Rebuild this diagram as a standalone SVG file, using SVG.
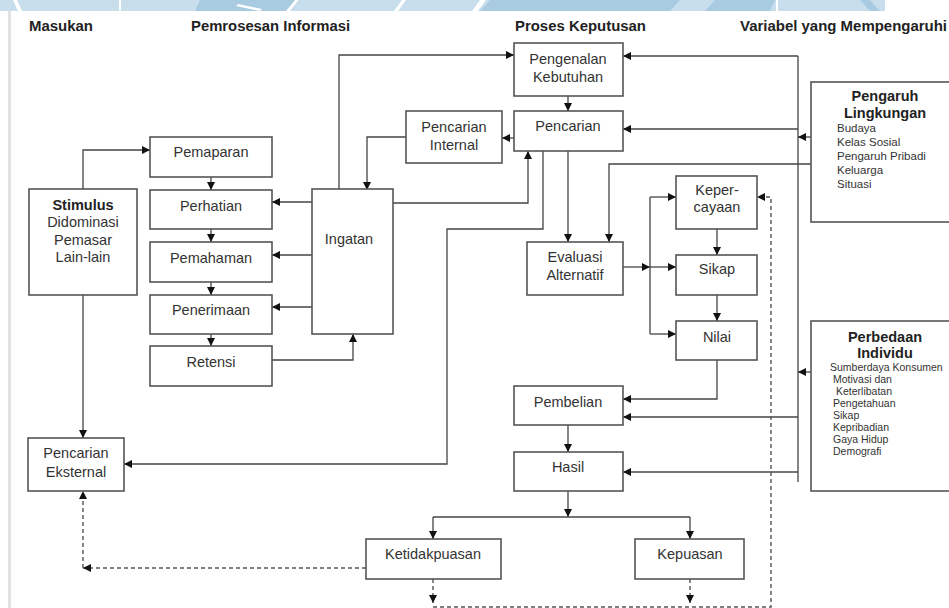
<svg xmlns="http://www.w3.org/2000/svg" width="949" height="608" viewBox="0 0 949 608">
<defs>
<marker id="ah" viewBox="0 0 10 10" refX="10" refY="5" markerUnits="userSpaceOnUse" markerWidth="8" markerHeight="8" orient="auto">
<path d="M0,0 L10,5 L0,10 z" fill="#111"/>
</marker>
</defs>
<style>
.box{fill:#fff;stroke:#555;stroke-width:1.6}
.ln{fill:none;stroke:#444;stroke-width:1.3}
.ar{marker-end:url(#ah)}
.ds{fill:none;stroke:#555;stroke-width:1.4;stroke-dasharray:4 3}
.t{font-family:"Liberation Sans",Arial,sans-serif;font-size:14.5px;fill:#333;text-anchor:middle}
.b{font-weight:bold;fill:#222}
.h{font-family:"Liberation Sans",Arial,sans-serif;font-size:14px;font-weight:bold;fill:#222}
.s{font-family:"Liberation Sans",Arial,sans-serif;font-size:11.5px;fill:#333}
.xs{font-family:"Liberation Sans",Arial,sans-serif;font-size:10.5px;fill:#333}
</style>
<rect x="0" y="0" width="949" height="608" fill="#fff"/>
<g id="watermark">
<rect x="0" y="0" width="885" height="11" fill="#c8deec"/>
<polygon points="200,0 300,0 290,11 195,11" fill="#a9cbe1"/>
<polygon points="490,0 680,0 670,11 480,11" fill="#a9cbe1"/>
<polygon points="715,0 775,0 770,11 705,11" fill="#a9cbe1"/>
<polygon points="13,0 17,0 22,11 18,11" fill="#fff"/>
<rect x="119" y="0" width="2" height="11" fill="#fff"/>
<polygon points="238,4 262,9 260,11 236,6" fill="#fff"/>
<polygon points="295,0 299,0 290,11 286,11" fill="#fff"/>
<polygon points="402,0 406,0 398,11 394,11" fill="#fff"/>
<polygon points="480,0 486,0 478,11 472,11" fill="#fff"/>
<rect x="776" y="0" width="2" height="11" fill="#fff"/>
<polygon points="860,0 870,0 880,11 870,11" fill="#a9cbe1"/>
<rect x="8" y="11" width="3" height="597" fill="#e2e2e2"/>
</g>
<g id="headers">
<text class="h" x="29" y="31" textLength="64" lengthAdjust="spacingAndGlyphs">Masukan</text>
<text class="h" x="191" y="31" textLength="159" lengthAdjust="spacingAndGlyphs">Pemrosesan Informasi</text>
<text class="h" x="515" y="31" textLength="131" lengthAdjust="spacingAndGlyphs">Proses Keputusan</text>
<text class="h" x="740" y="31" textLength="207" lengthAdjust="spacingAndGlyphs">Variabel yang Mempengaruhi</text>
</g>
<g id="connectors">
<path class="ln ar" d="M83,189 V150 H150"/>
<path class="ln ar" d="M83,295 V438"/>
<path class="ln ar" d="M211,177 V190"/>
<path class="ln ar" d="M211,229 V242"/>
<path class="ln ar" d="M211,282 V295"/>
<path class="ln ar" d="M211,334 V346"/>
<path class="ln ar" d="M312,202 H272"/>
<path class="ln ar" d="M312,255 H272"/>
<path class="ln ar" d="M312,307 H272"/>
<path class="ln ar" d="M272,360 H353 V334"/>
<path class="ln ar" d="M339,198 V55 H514"/>
<path class="ln ar" d="M406,137 H367 V190"/>
<path class="ln ar" d="M514,138 H502"/>
<path class="ln ar" d="M393,203 H528 V151"/>
<path class="ln ar" d="M543,151 V229 H447 V464 H124"/>
<path class="ln ar" d="M568,96 V111"/>
<path class="ln ar" d="M568,151 V242"/>
<path class="ln ar" d="M811,164 H609 V242"/>
<path class="ln" d="M798,56 V482"/>
<path class="ln ar" d="M798,56 H623"/>
<path class="ln ar" d="M798,129 H623"/>
<path class="ln ar" d="M811,137 H798"/>
<path class="ln ar" d="M811,372 H798"/>
<path class="ln ar" d="M798,417 H623"/>
<path class="ln ar" d="M798,472 H623"/>
<path class="ln ar" d="M623,267 H650"/>
<path class="ln" d="M650,197 V334"/>
<path class="ln ar" d="M650,197 H676"/>
<path class="ln ar" d="M650,267 H676"/>
<path class="ln ar" d="M650,334 H676"/>
<path class="ln ar" d="M717,229 V255"/>
<path class="ln ar" d="M717,295 V321"/>
<path class="ln ar" d="M717,360 V399 H623"/>
<path class="ln ar" d="M568,425 V452"/>
<path class="ln ar" d="M568,491 V517"/>
<path class="ln" d="M433,517 H690"/>
<path class="ln ar" d="M433,517 V539"/>
<path class="ln ar" d="M690,517 V539"/>
<path class="ds ar" d="M366,568 H83"/>
<path class="ds ar" d="M83,568 V491"/>
<path class="ds ar" d="M433,579 V603"/>
<path class="ds ar" d="M690,579 V603"/>
<path class="ds ar" d="M433,607 H771 V197 H757"/>
</g>
<g id="pemaparan"><rect class="box" x="150" y="137" width="122" height="40"/><text class="t" x="211" y="157">Pemaparan</text></g>
<g id="perhatian"><rect class="box" x="150" y="190" width="122" height="39"/><text class="t" x="211" y="211">Perhatian</text></g>
<g id="pemahaman"><rect class="box" x="150" y="242" width="122" height="40"/><text class="t" x="211" y="263">Pemahaman</text></g>
<g id="penerimaan"><rect class="box" x="150" y="295" width="122" height="39"/><text class="t" x="211" y="315">Penerimaan</text></g>
<g id="retensi"><rect class="box" x="150" y="346" width="122" height="40"/><text class="t" x="211" y="367">Retensi</text></g>
<g id="stimulus"><rect class="box" x="29" y="189" width="108" height="106"/>
<text class="t b" x="83" y="210">Stimulus</text>
<text class="t" x="83" y="227">Didominasi</text>
<text class="t" x="83" y="245">Pemasar</text>
<text class="t" x="83" y="262">Lain-lain</text></g>
<g id="pencarian-eksternal"><rect class="box" x="28" y="438" width="96" height="53"/>
<text class="t" x="76" y="458">Pencarian</text>
<text class="t" x="76" y="477">Eksternal</text></g>
<g id="ingatan"><rect class="box" x="312" y="189" width="81" height="145"/><text class="t" x="349" y="244">Ingatan</text></g>
<g id="pencarian-internal"><rect class="box" x="406" y="111" width="96" height="52"/>
<text class="t" x="454" y="132">Pencarian</text>
<text class="t" x="454" y="150">Internal</text></g>
<g id="pengenalan-kebutuhan"><rect class="box" x="514" y="43" width="109" height="53"/>
<text class="t" x="568" y="64">Pengenalan</text>
<text class="t" x="568" y="82">Kebutuhan</text></g>
<g id="pencarian"><rect class="box" x="514" y="111" width="109" height="40"/><text class="t" x="568" y="131">Pencarian</text></g>
<g id="evaluasi-alternatif"><rect class="box" x="527" y="242" width="96" height="53"/>
<text class="t" x="575" y="262">Evaluasi</text>
<text class="t" x="575" y="280">Alternatif</text></g>
<g id="kepercayaan"><rect class="box" x="676" y="176" width="81" height="53"/>
<text class="t" x="717" y="195">Keper-</text>
<text class="t" x="717" y="212">cayaan</text></g>
<g id="sikap"><rect class="box" x="676" y="255" width="81" height="40"/><text class="t" x="717" y="274">Sikap</text></g>
<g id="nilai"><rect class="box" x="676" y="321" width="81" height="39"/><text class="t" x="717" y="342">Nilai</text></g>
<g id="pembelian"><rect class="box" x="514" y="386" width="109" height="39"/><text class="t" x="568" y="407">Pembelian</text></g>
<g id="hasil"><rect class="box" x="514" y="452" width="109" height="39"/><text class="t" x="568" y="472">Hasil</text></g>
<g id="ketidakpuasan"><rect class="box" x="366" y="539" width="135" height="40"/><text class="t" x="433" y="559">Ketidakpuasan</text></g>
<g id="kepuasan"><rect class="box" x="635" y="539" width="109" height="40"/><text class="t" x="690" y="559">Kepuasan</text></g>
<g id="pengaruh-lingkungan"><rect class="box" x="811" y="82" width="150" height="140"/>
<text class="t b" x="885" y="101">Pengaruh</text>
<text class="t b" x="885" y="118">Lingkungan</text>
<text class="s" x="837" y="132">Budaya</text>
<text class="s" x="837" y="146">Kelas Sosial</text>
<text class="s" x="837" y="160">Pengaruh Pribadi</text>
<text class="s" x="837" y="174">Keluarga</text>
<text class="s" x="837" y="188">Situasi</text></g>
<g id="perbedaan-individu"><rect class="box" x="811" y="321" width="150" height="170"/>
<text class="t b" x="885" y="342">Perbedaan</text>
<text class="t b" x="885" y="358">Individu</text>
<text class="xs" x="830" y="371">Sumberdaya Konsumen</text>
<text class="xs" x="833" y="383">Motivasi dan</text>
<text class="xs" x="836" y="395">Keterlibatan</text>
<text class="xs" x="833" y="407">Pengetahuan</text>
<text class="xs" x="833" y="419">Sikap</text>
<text class="xs" x="833" y="431">Kepribadian</text>
<text class="xs" x="833" y="443">Gaya Hidup</text>
<text class="xs" x="833" y="455">Demografi</text></g>
</svg>
